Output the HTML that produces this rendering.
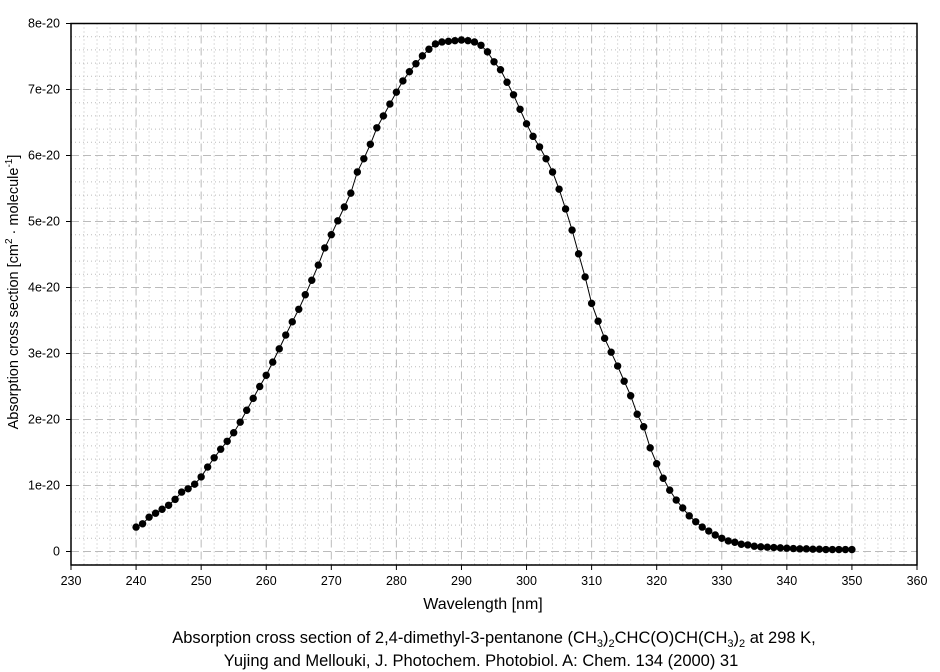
<!DOCTYPE html>
<html><head><meta charset="utf-8"><style>
body{margin:0;background:#fff;}
svg{display:block;font-family:"Liberation Sans",sans-serif;}
</style></head><body>
<svg id="s" width="940" height="672" xmlns="http://www.w3.org/2000/svg"></svg>
<script>
const s=document.getElementById('s');
const X=v=>71+(v-230)*846/130, Y=v=>551.5-v*66;
let h='';
for(let w=232;w<360;w+=2){ if(w%10) h+=`<line x1="${X(w)}" y1="23.5" x2="${X(w)}" y2="565" stroke="#bbb" stroke-dasharray="1,3"/>`;}
for(let i=-1;i<40;i++){ if(i%5){const y=Y(i*0.2); if(y>24&&y<565) h+=`<line x1="71" y1="${y}" x2="917" y2="${y}" stroke="#bbb" stroke-dasharray="1,3"/>`;}}
for(let w=240;w<360;w+=10) h+=`<line x1="${X(w)}" y1="23.5" x2="${X(w)}" y2="565" stroke="#bbb" stroke-dasharray="8,4"/>`;
for(let i=0;i<8;i++) h+=`<line x1="71" y1="${Y(i)}" x2="917" y2="${Y(i)}" stroke="#bbb" stroke-dasharray="8,4"/>`;
h+=`<path d="M71 23.5H917V565H71Z" fill="none" stroke="#000" stroke-width="1.5"/>`;
for(let i=0;i<=8;i++){h+=`<line x1="66" y1="${Y(i)}" x2="71" y2="${Y(i)}" stroke="#000"/><text x="60" y="${Y(i)+4}" font-size="12.5" text-anchor="end">${i?i+'e-20':'0'}</text>`;}
for(let w=230;w<=360;w+=10){h+=`<line x1="${X(w)}" y1="565" x2="${X(w)}" y2="570" stroke="#000"/><text x="${X(w)}" y="585" font-size="12.5" text-anchor="middle">${w}</text>`;}
const d=[0.37,0.42,0.52,0.58,0.64,0.70,0.79,0.9,0.95,1.02,1.13,1.28,1.42,1.55,1.67,1.80,1.96,2.14,2.32,2.50,2.67,2.87,3.07,3.28,3.48,3.67,3.89,4.11,4.34,4.60,4.80,5.01,5.22,5.43,5.75,5.95,6.17,6.42,6.60,6.78,6.96,7.13,7.27,7.39,7.51,7.61,7.69,7.72,7.73,7.74,7.75,7.74,7.72,7.67,7.57,7.42,7.30,7.11,6.92,6.70,6.48,6.29,6.13,5.95,5.75,5.49,5.19,4.87,4.51,4.16,3.76,3.49,3.23,3.02,2.81,2.58,2.36,2.08,1.89,1.57,1.33,1.11,0.93,0.78,0.66,0.54,0.45,0.37,0.31,0.25,0.20,0.16,0.14,0.11,0.10,0.08,0.07,0.065,0.06,0.055,0.05,0.045,0.04,0.04,0.035,0.035,0.03,0.03,0.03,0.03,0.03];
let p='';d.forEach((v,i)=>{p+=(i?'L':'M')+X(240+i).toFixed(1)+' '+Y(v).toFixed(1);});
h+=`<path d="${p}" fill="none" stroke="#000" stroke-width="1"/>`;
d.forEach((v,i)=>{h+=`<circle cx="${X(240+i)}" cy="${Y(v)}" r="3.7" fill="#000"/>`;});
h+=`<text x="483" y="609" font-size="16" text-anchor="middle">Wavelength [nm]</text>`;
h+=`<text transform="translate(18,292) rotate(-90)" font-size="14.5" text-anchor="middle">Absorption cross section [cm<tspan font-size="10" dy="-6">2</tspan><tspan dy="6"> · molecule</tspan><tspan font-size="10" dy="-6">-1</tspan><tspan dy="6">]</tspan></text>`;
h+=`<text x="494" y="643" font-size="16.5" text-anchor="middle">Absorption cross section of 2,4-dimethyl-3-pentanone (CH<tspan font-size="11" dy="4">3</tspan><tspan dy="-4">)</tspan><tspan font-size="11" dy="4">2</tspan><tspan dy="-4">CHC(O)CH(CH</tspan><tspan font-size="11" dy="4">3</tspan><tspan dy="-4">)</tspan><tspan font-size="11" dy="4">2</tspan><tspan dy="-4"> at 298 K,</tspan></text>`;
h+=`<text x="481" y="666" font-size="16.5" text-anchor="middle">Yujing and Mellouki, J. Photochem. Photobiol. A: Chem. 134 (2000) 31</text>`;
s.innerHTML=h;
</script>
</body></html>
